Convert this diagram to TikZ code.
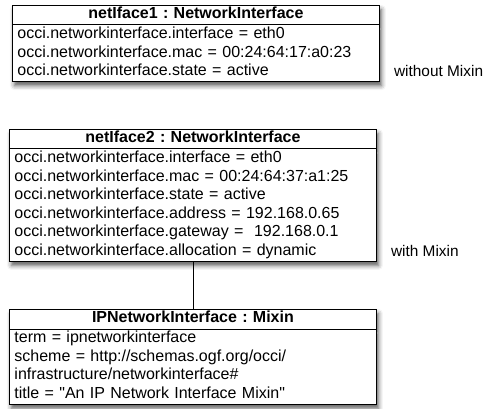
\documentclass[tikz,border=0pt]{standalone}
\usepackage{fontspec}
\setmainfont{Liberation Sans}
\usetikzlibrary{shapes.multipart,shadows.blur,positioning}
\newcommand{\objfont}{\fontsize{16}{18.6}\selectfont\frenchspacing}
\newcommand{\objtitle}[1]{\centerline{\bfseries\strut #1}}
\newcommand{\dquote}{\XeTeXglyph\XeTeXcharglyph"22\relax}
\tikzset{
    object/.style = {draw, rectangle split, rectangle split parts=2,
        fill=white, line width=0.9pt,
        text width=357pt, inner xsep=5pt, inner ysep=0pt, align=left,
        font=\objfont,
        blur shadow={shadow xshift=2pt, shadow yshift=-4pt,
            shadow blur radius=4.5pt, shadow opacity=65}},
    link/.style = {draw, line width=0.9pt},
    note/.style = {font=\fontsize{15.4}{18}\selectfont, inner sep=0pt, anchor=base west}
}

\begin{document}
\begin{tikzpicture}[x=1pt,y=1pt]
    \useasboundingbox (0,0) rectangle (483,408);
    \node [object, anchor=north west] (nif1) at (12,403) {%
        \objtitle{netIface1 : NetworkInterface}
        \nodepart{second}
        \strut occi.networkinterface.interface = eth0\\
        occi.networkinterface.mac = 00:24:64:17:a0:23\\
        occi.networkinterface.state = active\strut};
    \node [object, anchor=north west] (nif2) at (9,279) {%
        \objtitle{netIface2 : NetworkInterface}
        \nodepart{second}
        \strut occi.networkinterface.interface = eth0\\
        occi.networkinterface.mac = 00:24:64:37:a1:25\\
        occi.networkinterface.state = active\\
        occi.networkinterface.address = 192.168.0.65\\
        occi.networkinterface.gateway =~ 192.168.0.1\\
        occi.networkinterface.allocation = dynamic\strut};
    \node [object, anchor=north west] (ipmix) at (9,99) {%
        \objtitle{IPNetworkInterface : Mixin}
        \nodepart{second}
        \strut term = ipnetworkinterface\\
        scheme = http://schemas.ogf.org/occi/\\
        infrastructure/networkinterface\#\\
        title = \dquote An IP Network Interface Mixin\dquote\strut};
    \draw [link] (nif2.south) -- (ipmix.north);
    \node [above right=5.6pt and 14pt of nif1.south east, note] (nomix) {without Mixin};
    \node [above right=5.6pt and 14pt of nif2.south east, note] (withmix) {with Mixin};
\end{tikzpicture}
\end{document}
